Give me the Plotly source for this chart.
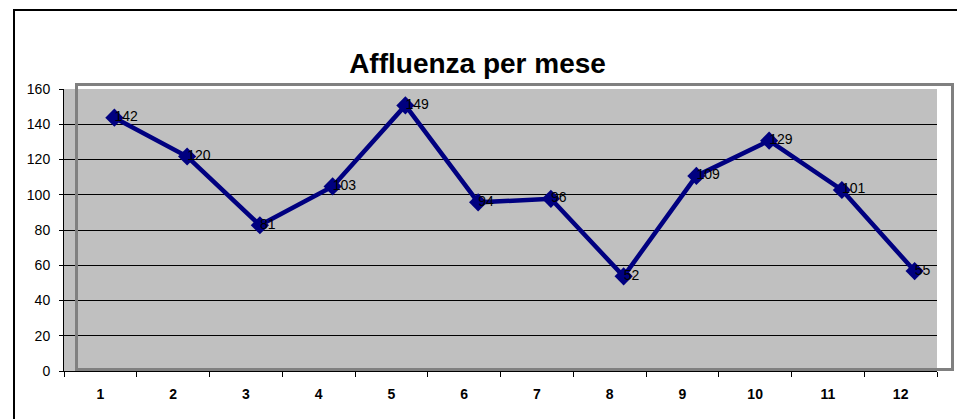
import plotly.graph_objects as go

# ---- data ----
months = ["1", "2", "3", "4", "5", "6", "7", "8", "9", "10", "11", "12"]
visitors = [142, 120, 81, 103, 149, 94, 96, 52, 109, 129, 101, 55]
y_ticks = [0, 20, 40, 60, 80, 100, 120, 140, 160]
title_text = "Affluenza per mese"

# ---- geometry (pixels, in page coordinates) ----
PAGE_W, PAGE_H = 965, 419
OFF = 8                       # default body margin of the html page
W, H = PAGE_W - OFF, PAGE_H - OFF
# target plot area (page px): gray x 64..937, y 89..371
L = 64 - OFF
T = 86 - OFF
B = PAGE_H - 371
R = PAGE_W - 951
PW, PH = W - L - R, H - T - B
gray_w = 873          # width of the gray plot area
shift_x = 14          # series frame offset to the right
shift_y = 3           # series frame offset upward

FONT = "Liberation Sans, Arial, sans-serif"
NAVY = "#000080"


def px_x(px):
    """page x pixel -> paper coordinate"""
    return (px - OFF - L) / PW


def px_y(py):
    """page y pixel -> paper coordinate"""
    return (OFF + T + PH - py) / PH


fig = go.Figure()

# invisible carrier on the main (gray) axes so that subplot is drawn
fig.add_trace(go.Scatter(
    x=months, y=visitors, xaxis="x", yaxis="y",
    mode="lines", line=dict(color="rgba(0,0,0,0)", width=0),
    hoverinfo="skip", showlegend=False,
))
fig.add_trace(go.Scatter(
    x=months, y=visitors, xaxis="x2", yaxis="y2",
    mode="lines+markers",
    line=dict(color=NAVY, width=4.5),
    marker=dict(symbol="diamond", size=14, color=NAVY),
    hoverinfo="skip", showlegend=False,
))
fig.add_trace(go.Scatter(
    x=months, y=visitors, xaxis="x2", yaxis="y2",
    mode="text", text=[str(v) for v in visitors],
    textposition="middle right",
    textfont=dict(family=FONT, size=14, color="black"),
    hoverinfo="skip", showlegend=False,
))

fig.update_layout(
    width=W, height=H,
    margin=dict(l=L, r=R, t=T, b=B, autoexpand=False),
    paper_bgcolor="white",
    plot_bgcolor="rgba(0,0,0,0)",
    showlegend=False,
    title=dict(
        text=title_text,
        font=dict(family=FONT, size=28, color="black", weight="bold"),
        xref="container", yref="container",
        x=(477.5 - OFF) / W, xanchor="center",
        y=1 - (63 - OFF) / H, yanchor="middle",
    ),
    xaxis=dict(
        type="category", categoryorder="array", categoryarray=months,
        range=[-0.5, len(months) - 0.5],
        domain=[0, gray_w / PW], anchor="y",
        tickson="boundaries", ticks="outside", ticklen=5, tickcolor="black",
        tickwidth=1,
        tickfont=dict(family=FONT, size=14, color="black", weight="bold"),
        ticklabelstandoff=10,
        showline=True, linecolor="black", linewidth=1,
        showgrid=False, zeroline=False, fixedrange=True,
    ),
    yaxis=dict(
        range=[0, 160], tickvals=y_ticks,
        domain=[0, (PH - shift_y) / PH], anchor="x",
        ticks="outside", ticklen=4, tickcolor="black", tickwidth=1,
        tickfont=dict(family=FONT, size=14, color="black"),
        ticklabelstandoff=6,
        showline=True, linecolor="black", linewidth=1,
        showgrid=True, gridcolor="black", gridwidth=1,
        zeroline=False, fixedrange=True,
    ),
    xaxis2=dict(
        type="category", categoryorder="array", categoryarray=months,
        range=[-0.5, len(months) - 0.5],
        domain=[shift_x / PW, 1], anchor="y2",
        showticklabels=False, ticks="", showgrid=False, zeroline=False,
        showline=True, mirror=True, linecolor="#808080", linewidth=2.5,
        fixedrange=True,
    ),
    yaxis2=dict(
        range=[0, 160],
        domain=[shift_y / PH, 1], anchor="x2",
        showticklabels=False, ticks="", showgrid=False, zeroline=False,
        showline=True, mirror=True, linecolor="#808080", linewidth=2.5,
        fixedrange=True,
    ),
    shapes=[
        dict(type="rect", xref="x domain", yref="y domain",
             x0=0, x1=1, y0=0, y1=1, fillcolor="#C0C0C0",
             line=dict(width=0), layer="below"),
        dict(type="line", xref="paper", yref="paper",
             x0=px_x(13), x1=px_x(PAGE_W + 2), y0=px_y(10), y1=px_y(10),
             line=dict(color="black", width=2)),
        dict(type="line", xref="paper", yref="paper",
             x0=px_x(14), x1=px_x(14), y0=px_y(10), y1=px_y(PAGE_H + 2),
             line=dict(color="black", width=2)),
    ],
)

fig.write_html("out.html")
